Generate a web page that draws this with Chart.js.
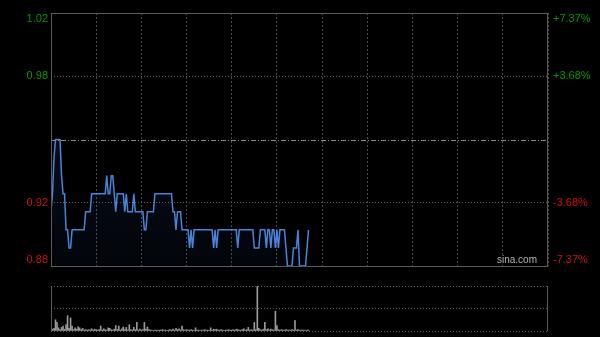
<!DOCTYPE html>
<html>
<head>
<meta charset="utf-8">
<script src="https://cdn.jsdelivr.net/npm/chart.js@4"></script>
<style>
html, body { margin: 0; padding: 0; background: #000; }
#wrap { position: relative; width: 600px; height: 337px; }
#priceBox { position: absolute; left: 0; top: 0; width: 600px; height: 280px; }
#volBox { position: absolute; left: 0; top: 280px; width: 600px; height: 57px; }
</style>
</head>
<body>
<div id="wrap">
  <div id="priceBox"><canvas id="priceChart"></canvas></div>
  <div id="volBox"><canvas id="volChart"></canvas></div>
</div>
<script>
// one value per trading minute (330 min session: 9:30-12:00, 13:00-16:00)
const sessionMinutes = 330;
const prevClose = 0.95;
const priceMin = 0.88;
const priceMax = 1.02;
const gridPrices = [0.88, 0.915, 0.95, 0.985, 1.02];
const labelPrices = [1.02, 0.985, 0.915, 0.88];
const leftLabels = ['1.02', '0.98', '0.92', '0.88'];
const rightLabels = ['+7.37%', '+3.68%', '-3.68%', '-7.37%'];

const prices = [
  0.91,0.92,0.94,0.95,0.95,0.95,0.95,0.93,0.92,0.92,
  0.90,0.90,0.89,0.89,0.90,0.90,0.90,0.90,0.90,0.90,
  0.90,0.90,0.90,0.91,0.91,0.91,0.91,0.92,0.92,0.92,
  0.92,0.92,0.92,0.92,0.92,0.92,0.92,0.93,0.92,0.92,
  0.93,0.93,0.92,0.91,0.92,0.92,0.92,0.92,0.92,0.91,
  0.92,0.91,0.91,0.91,0.91,0.92,0.91,0.91,0.91,0.91,
  0.91,0.91,0.90,0.90,0.91,0.91,0.91,0.91,0.91,0.92,
  0.92,0.92,0.92,0.92,0.92,0.92,0.92,0.92,0.92,0.92,
  0.92,0.91,0.91,0.90,0.91,0.91,0.91,0.90,0.90,0.90,
  0.90,0.90,0.89,0.90,0.89,0.90,0.90,0.90,0.90,0.90,
  0.90,0.90,0.90,0.90,0.90,0.90,0.90,0.90,0.89,0.90,
  0.89,0.90,0.90,0.90,0.90,0.90,0.90,0.90,0.90,0.90,
  0.90,0.90,0.90,0.90,0.89,0.90,0.90,0.90,0.90,0.90,
  0.90,0.90,0.90,0.90,0.90,0.89,0.89,0.89,0.89,0.90,
  0.90,0.90,0.90,0.89,0.90,0.90,0.89,0.90,0.90,0.89,
  0.90,0.89,0.90,0.90,0.90,0.90,0.89,0.88,0.88,0.88,
  0.88,0.89,0.89,0.89,0.90,0.88,0.88,0.88,0.88,0.88,
  0.89,0.90
];

const volumes = [
  5,4,6,25,19,7,3,8,11,4,
  14,34,6,29,11,3,7,4,9,7,
  3,6,2,3,2,3,2,5,2,4,
  3,2,3,11,2,5,3,2,7,6,
  3,2,4,12,3,11,2,5,9,3,
  8,2,14,3,2,8,3,19,2,4,
  2,3,19,4,9,3,2,2,1,2,
  2,1,2,2,3,2,2,1,2,3,
  2,4,2,6,3,5,2,11,3,2,
  3,2,2,3,2,1,7,2,2,1,
  2,2,3,2,2,1,7,2,4,3,
  4,2,2,3,2,1,2,2,3,2,
  2,3,2,4,3,2,2,3,5,2,
  3,8,2,3,2,19,3,100,6,3,
  2,4,19,3,5,2,4,3,2,44,
  12,3,2,3,2,2,3,2,2,2,
  3,2,23,2,3,2,2,2,2,1,
  2,2
];

const upColor = '#0a940a';
const downColor = '#cc1010';
const frameColor = '#5a5a5a';

const noSize = s => { if (s.isHorizontal()) s.height = 0; else s.width = 0; };

const pricePlugin = {
  id: 'pricePlugin',
  beforeDatasetsDraw(chart) {
    const { ctx, chartArea: a, scales: { y } } = chart;
    const py = Math.round(y.getPixelForValue(prevClose)) + 0.5;
    ctx.save();
    ctx.strokeStyle = '#8c8c8c';
    ctx.lineWidth = 1;
    ctx.setLineDash([5, 2, 1, 2]);
    ctx.beginPath();
    ctx.moveTo(a.left, py);
    ctx.lineTo(a.right, py);
    ctx.stroke();
    ctx.restore();
  },
  afterDraw(chart) {
    const { ctx, chartArea: a, scales: { y } } = chart;
    ctx.save();
    ctx.strokeStyle = frameColor;
    ctx.lineWidth = 1;
    ctx.strokeRect(a.left + 0.5, a.top + 0.5, a.right - a.left - 1, a.bottom - a.top);
    ctx.font = '11px Arial, "Liberation Sans", sans-serif';
    ctx.textBaseline = 'middle';
    labelPrices.forEach((v, i) => {
      let py = y.getPixelForValue(v);
      if (i === 0) py += 6;
      if (i === labelPrices.length - 1) py -= 6;
      ctx.fillStyle = v > prevClose ? upColor : downColor;
      ctx.textAlign = 'right';
      ctx.fillText(leftLabels[i], a.left - 3, py);
      ctx.textAlign = 'left';
      ctx.fillText(rightLabels[i], a.right + 5, py);
    });
    // watermark
    ctx.font = '10px Arial, "Liberation Sans", sans-serif';
    ctx.fillStyle = '#000';
    ctx.fillRect(a.right - 50, a.bottom - 12, 46, 11);
    ctx.fillStyle = '#b4b4b4';
    ctx.textAlign = 'right';
    ctx.fillText('sina.com', a.right - 11, a.bottom - 6);
    ctx.restore();
  }
};

const priceChart = new Chart(document.getElementById('priceChart'), {
  type: 'line',
  data: {
    datasets: [{
      data: prices.map((p, i) => ({ x: i, y: p })),
      borderColor: '#4a84d8',
      borderWidth: 1.5,
      pointRadius: 0,
      tension: 0,
      fill: 'start',
      backgroundColor: (c) => {
        const a = c.chart.chartArea;
        if (!a) return 'rgba(30,60,120,0.15)';
        const g = c.chart.ctx.createLinearGradient(0, a.top, 0, a.bottom);
        g.addColorStop(0, 'rgba(40,80,160,0.25)');
        g.addColorStop(1, 'rgba(40,80,160,0.06)');
        return g;
      }
    }]
  },
  options: {
    responsive: true,
    maintainAspectRatio: false,
    animation: false,
    layout: { padding: { left: 51, right: 52, top: 13, bottom: 14 } },
    plugins: { legend: { display: false }, tooltip: { enabled: false } },
    scales: {
      x: {
        type: 'linear',
        min: 0,
        max: sessionMinutes,
        afterFit: noSize,
        ticks: { display: false, stepSize: 30 },
        grid: { color: '#4a4a4a', drawTicks: false },
        border: { display: false, dash: [2, 2] }
      },
      y: {
        min: priceMin,
        max: priceMax,
        afterFit: noSize,
        afterBuildTicks: (s) => { s.ticks = gridPrices.map(v => ({ value: v })); },
        ticks: { display: false },
        grid: {
          color: (c) => (c.tick && c.tick.value === prevClose) ? 'rgba(0,0,0,0)' : '#5e5e5e',
          drawTicks: false
        },
        border: { display: false, dash: [1, 2] }
      }
    }
  },
  plugins: [pricePlugin]
});

const volPlugin = {
  id: 'volPlugin',
  afterDraw(chart) {
    const { ctx, chartArea: a } = chart;
    ctx.save();
    ctx.strokeStyle = frameColor;
    ctx.lineWidth = 1;
    ctx.beginPath();
    ctx.moveTo(a.left + 0.5, a.top);
    ctx.lineTo(a.left + 0.5, a.bottom);
    ctx.moveTo(a.right - 0.5, a.top);
    ctx.lineTo(a.right - 0.5, a.bottom);
    ctx.stroke();
    ctx.restore();
  }
};

const volChart = new Chart(document.getElementById('volChart'), {
  type: 'bar',
  data: {
    datasets: [{
      data: volumes.map((v, i) => ({ x: i, y: v })),
      backgroundColor: '#9a9a9a',
      barThickness: 1
    }]
  },
  options: {
    responsive: true,
    maintainAspectRatio: false,
    animation: false,
    layout: { padding: { left: 51, right: 52, top: 6, bottom: 6 } },
    plugins: { legend: { display: false }, tooltip: { enabled: false } },
    scales: {
      x: {
        type: 'linear',
        min: 0,
        max: sessionMinutes,
        offset: false,
        afterFit: noSize,
        ticks: { display: false },
        grid: { display: false },
        border: { display: false }
      },
      y: {
        min: 0,
        max: Math.max(...volumes),
        afterFit: noSize,
        ticks: { display: false, stepSize: Math.max(...volumes) / 2 },
        grid: { color: '#5e5e5e', drawTicks: false },
        border: { display: false, dash: [1, 2] }
      }
    }
  },
  plugins: [volPlugin]
});
</script>
</body>
</html>
